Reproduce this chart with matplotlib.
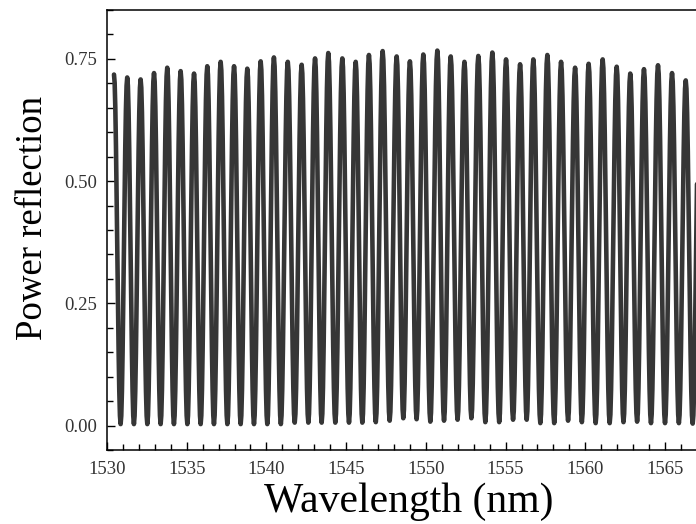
import numpy as np
import matplotlib.pyplot as plt
from matplotlib.ticker import MultipleLocator

# wavelength (nm) of each reflection peak
peak_wl = [1530.44, 1531.27, 1532.11, 1532.95, 1533.78, 1534.62, 1535.46, 1536.29,
           1537.13, 1537.97, 1538.80, 1539.64, 1540.47, 1541.34, 1542.21, 1543.05,
           1543.88, 1544.76, 1545.60, 1546.43, 1547.29, 1548.17, 1549.00, 1549.84,
           1550.72, 1551.56, 1552.42, 1553.29, 1554.17, 1555.03, 1555.91, 1556.74,
           1557.62, 1558.48, 1559.36, 1560.21, 1561.09, 1561.97, 1562.82, 1563.68,
           1564.56, 1565.44, 1566.30, 1567.17]

# power reflection at each peak
peak_r = [0.718, 0.712, 0.708, 0.721, 0.732, 0.725, 0.720, 0.735,
          0.744, 0.735, 0.730, 0.745, 0.753, 0.744, 0.738, 0.751,
          0.762, 0.751, 0.744, 0.758, 0.766, 0.755, 0.745, 0.759,
          0.767, 0.755, 0.744, 0.756, 0.763, 0.749, 0.739, 0.749,
          0.758, 0.744, 0.732, 0.740, 0.749, 0.734, 0.720, 0.729,
          0.737, 0.721, 0.706, 0.715]

# power reflection at the dip between two neighbouring peaks
dip_r = [0.003, 0.003, 0.003, 0.003, 0.003, 0.003, 0.003, 0.003, 0.003, 0.003,
         0.003, 0.003, 0.003, 0.006, 0.006, 0.006, 0.006, 0.006, 0.006, 0.007,
         0.010, 0.015, 0.013, 0.008, 0.010, 0.012, 0.015, 0.007, 0.007, 0.012,
         0.012, 0.005, 0.005, 0.010, 0.007, 0.005, 0.005, 0.007, 0.008, 0.005,
         0.005, 0.005, 0.004]

# fringe outline from a peak down to the next dip
# (fraction of the half period, fraction of the fringe depth)
shape_pos = [0.0, 0.1, 0.2, 0.3, 0.4, 0.5, 0.6, 0.7, 0.8, 0.9, 1.0]
shape_lvl = [1.0, 0.976, 0.905, 0.794, 0.655, 0.5, 0.345, 0.206, 0.095, 0.024, 0.0]

pos = np.array(shape_pos)
lvl = np.array(shape_lvl)
wl, refl = [], []
for i in range(len(peak_wl) - 1):
    p0, p1 = peak_wl[i], peak_wl[i + 1]
    mid = (p0 + p1) / 2
    d = dip_r[i]
    # falling side
    wl.extend(p0 + pos * (mid - p0))
    refl.extend(d + lvl * (peak_r[i] - d))
    # rising side
    wl.extend(mid + pos[1:] * (p1 - mid))
    refl.extend(d + lvl[::-1][1:] * (peak_r[i + 1] - d))

plt.rcParams['font.family'] = ['Liberation Serif', 'DejaVu Serif']

fig = plt.figure(figsize=(6.96, 5.24), dpi=100)
# the frame runs past the right edge of the figure
ax = fig.add_axes([0.1537, 0.1412, 0.8934, 0.8397])

ax.plot(wl, refl, color='#363636', lw=3.3, solid_joinstyle='round',
        solid_capstyle='round')

ax.set_xlim(1530, 1569)
ax.set_ylim(-0.05, 0.85)
ax.xaxis.set_major_locator(MultipleLocator(5))
ax.xaxis.set_minor_locator(MultipleLocator(1))
ax.yaxis.set_major_locator(MultipleLocator(0.25))
ax.yaxis.set_minor_locator(MultipleLocator(0.05))
ax.yaxis.set_major_formatter(plt.FormatStrFormatter('%.2f'))

ax.tick_params(which='both', direction='in', top=False, right=False,
               width=1.0, labelsize=13.5, labelcolor='#333333')
ax.tick_params(which='major', length=6)
ax.tick_params(which='minor', length=4)
ax.tick_params(axis='y', pad=7)
ax.tick_params(axis='x', pad=8)

for s in ax.spines.values():
    s.set_linewidth(1.1)

ax.set_xlabel('Wavelength (nm)', fontsize=30, labelpad=3)
ax.set_ylabel('Power reflection', fontsize=26.5, labelpad=10)
ax.xaxis.label.set_x(0.485)
ax.yaxis.label.set_y(0.527)

fig.savefig('out.png', dpi=100)
